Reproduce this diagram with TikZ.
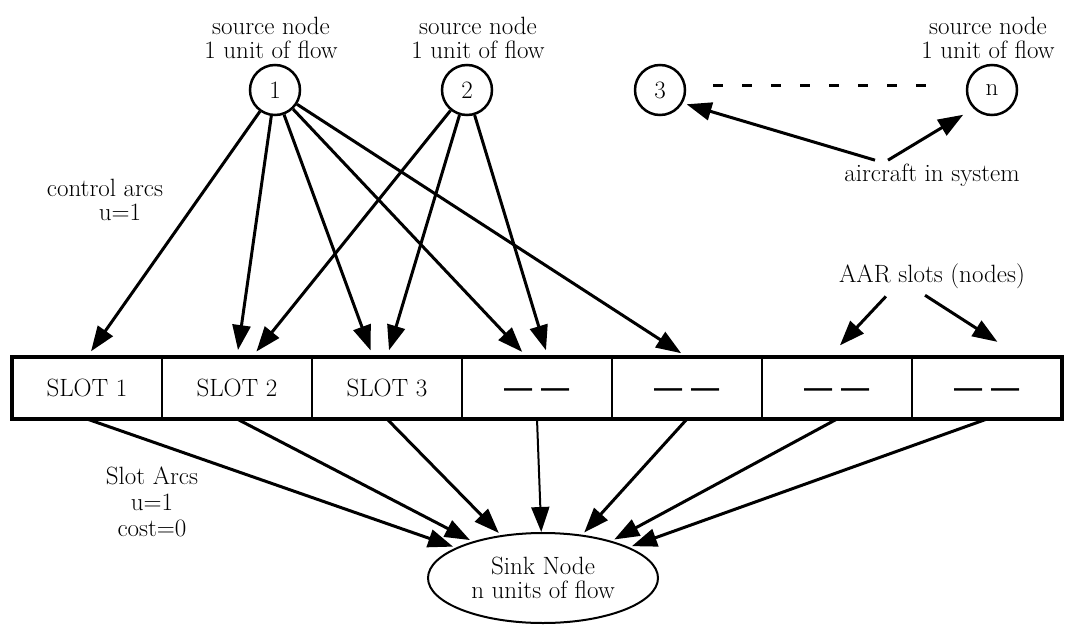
\documentclass[tikz,border=0pt]{standalone}
\usepackage{tikz}
\usepackage{graphicx}
\usetikzlibrary{shapes}
\usetikzlibrary{arrows.meta}
\usetikzlibrary{positioning}

\tikzset{
  src/.style={draw, circle, line width=2.5pt, minimum size=50pt, inner sep=0pt},
  slot/.style={draw, rectangle, line width=2pt, minimum width=150pt,
    minimum height=62pt, inner sep=0pt, outer sep=0pt},
  arc/.style={line width=3pt, -{Triangle[length=25pt,width=18pt]}},
  lbl/.style={align=center},
}
\newcommand{\slotdash}{\scalebox{1}[3]{\raisebox{-0.3em}[0pt][0pt]{\textbf{--- ---}}}}

\begin{document}
\begin{tikzpicture}[x=1pt, y=-1pt, font=\fontsize{25}{24}\selectfont]
  \useasboundingbox (0,0) rectangle (1065,626);

  % aircraft
  \node[src] (n1) at (275,90) {1};
  \node[src] (n2) at (467,90) {2};
  \node[src] (n3) at (660,90) {3};
  \node[src] (nn) at (992,90) {n};

  \node[lbl, above=2pt of n1, xshift=-4pt] (l1) {source node\\1 unit of flow};
  \node[lbl, above=2pt of n2, xshift=11pt] (l2) {source node\\1 unit of flow};
  \node[lbl, above=2pt of nn, xshift=-4pt] (ln) {source node\\1 unit of flow};

  \draw[line width=3pt, dash pattern=on 10pt off 19pt, shorten <=27pt, shorten >=40pt]
    ([yshift=5pt]n3.east) -- ([yshift=5pt]nn.west);

  \node (air) at (932,175) {aircraft in system};
  \draw[arc, shorten >=4pt] ([xshift=-57pt]air.north) -- (n3.-30);
  \draw[arc, shorten >=12pt] ([xshift=-44pt]air.north) -- (nn.225);

  % AAR slots
  \node[slot] (s1) at (87,388) {SLOT 1};
  \foreach \i/\t in {2/SLOT 2,3/SLOT 3,4/\slotdash,5/\slotdash,6/\slotdash,7/\slotdash} {%
    \node[slot] (s\i) at ({87+150*(\i-1)},388) {\t};
  }
  \draw[line width=4pt] (s1.north west) rectangle (s7.south east);

  \node (aar) at (932,276) {AAR slots (nodes)};
  \draw[arc, shorten <=6pt, shorten >=16pt] ([xshift=-42pt]aar.south) -- ([xshift=-8pt]s6.north);
  \draw[arc, shorten <=6pt, shorten >=28pt] ([xshift=-12pt]aar.south) -- ([xshift=34pt]s7.north);

  % control arcs
  \node[lbl] (ctl) at (105,200) {control arcs\\\hspace*{1.2em}u=1};
  \foreach \s/\dx in {1/0,2/0,3/-14,4/-10,5/0} {%
    \draw[arc, shorten >=7pt] (n1) -- ([xshift=\dx pt]s\s.north);
  }
  \foreach \s/\dx in {2/15,3/0,4/11} {%
    \draw[arc, shorten >=7pt] (n2) -- ([xshift=\dx pt]s\s.north);
  }

  % sink
  \node[draw, ellipse, line width=2pt, minimum width=230pt, minimum height=90pt,
    inner sep=0pt, lbl] (sink) at (543,578) {Sink Node\\n units of flow};

  \node[lbl, font=\fontsize{25}{26}\selectfont] (sla) at (152,502) {Slot Arcs\\u=1\\cost=0};
  \foreach \i in {1,2,3,5,6,7} {%
    \draw[arc, shorten >=3pt] (s\i.south) -- (sink);
  }
  \draw[arc, line width=2pt] (s4.south) -- (sink);
\end{tikzpicture}
\end{document}
